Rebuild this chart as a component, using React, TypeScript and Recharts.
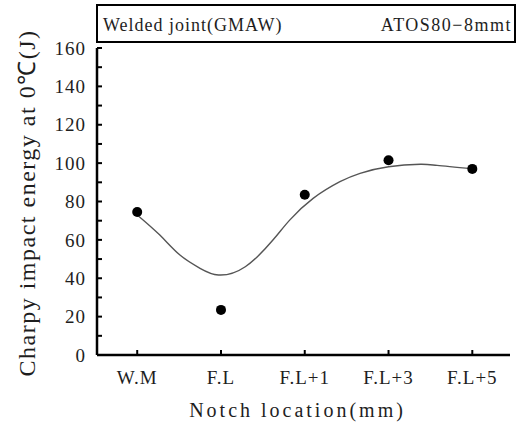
import React from 'react';
import { ComposedChart, Line, Scatter, XAxis, YAxis } from 'recharts';

const categories = ['W.M', 'F.L', 'F.L+1', 'F.L+3', 'F.L+5'];
const categoryIndex = [0, 1, 2, 3, 4];
const measuredEnergy = [74.5, 23.5, 83.5, 101.5, 97];

// smooth fitted curve (x = position along the category axis)
const curveX = [0, 0.27, 0.51, 0.75, 0.97, 1.29, 1.62, 1.82, 2.1, 2.42, 2.66, 3.0, 3.38, 3.58, 4];
const curveY = [73, 62.5, 52.1, 45.2, 41.7, 46, 59.9, 70.3, 81.6, 90.3, 94.7, 98.1, 99.4, 98.8, 97.1];

const yTicks = [0, 10, 20, 30, 40, 50, 60, 70, 80, 90, 100, 110, 120, 130, 140, 150, 160];
const titleLeft = 'Welded joint(GMAW)';
const titleRight = 'ATOS80\u22128mmt';
const xTitle = 'Notch location(mm)';
const yTitle = 'Charpy impact energy at 0\u2103(J)';

const points = categoryIndex.map((x, i) => ({ x, y: measuredEnergy[i] }));
const curve = curveX.map((x, i) => ({ x, y: curveY[i] }));

const FONT = 'Liberation Serif';
const TEXT = '#1e1e1e';
const X_DOMAIN: [number, number] = [-0.48, 4.45];

const Dot = (props: any) => {
  const { cx, cy } = props;
  if (cx == null || cy == null) return null;
  return <circle cx={cx} cy={cy} r={5} fill="#000" />;
};

export default function App() {
  return (
    <div style={{ position: 'absolute', left: 0, top: 0, width: 518, height: 423, background: '#fff', fontFamily: FONT }}>
      <ComposedChart
        width={518}
        height={423}
        margin={{ top: 48, right: 8, bottom: 0, left: 0 }}
        style={{ fontFamily: FONT }}
      >
        <XAxis
          xAxisId="bottom"
          dataKey="x"
          type="number"
          domain={X_DOMAIN}
          ticks={categoryIndex}
          interval={0}
          tickFormatter={(v: number) => categories[v] ?? ''}
          height={68}
          tickSize={-5}
          tickMargin={21}
          axisLine={{ stroke: '#000', strokeWidth: 2.5 }}
          tickLine={{ stroke: '#000', strokeWidth: 2 }}
          tick={{ fill: TEXT, fontSize: 19, fontFamily: FONT, letterSpacing: 1 }}
          allowDataOverflow
          label={{
            value: xTitle,
            position: 'insideBottom',
            offset: 6,
            dx: -6,
            fill: TEXT,
            fontSize: 20,
            fontFamily: FONT,
            style: { letterSpacing: 3, fontFamily: FONT },
          }}
        />
        <XAxis
          xAxisId="top"
          orientation="top"
          type="number"
          domain={X_DOMAIN}
          ticks={categoryIndex}
          interval={0}
          height={0}
          tickSize={-5}
          tick={false}
          axisLine={{ stroke: '#000', strokeWidth: 2.5 }}
          tickLine={{ stroke: '#000', strokeWidth: 2 }}
          allowDataOverflow
        />
        <YAxis
          yAxisId="left"
          type="number"
          domain={[0, 160]}
          ticks={yTicks}
          interval={0}
          width={97}
          tickSize={-5}
          tickMargin={16}
          tickFormatter={(v: number) => (v % 20 === 0 ? String(v) : '')}
          axisLine={{ stroke: '#000', strokeWidth: 2.5 }}
          tickLine={{ stroke: '#000', strokeWidth: 2 }}
          tick={{ fill: TEXT, fontSize: 19, fontFamily: FONT, letterSpacing: 1 }}
          allowDataOverflow
          label={{
            content: () => (
              <text
                x={35}
                y={203}
                transform="rotate(-90 35 203)"
                textAnchor="middle"
                fill={TEXT}
                fontSize={24}
                fontFamily={FONT}
                style={{ letterSpacing: 1.5, fontFamily: FONT }}
              >
                {yTitle}
              </text>
            ),
          }}
        />
        <YAxis
          yAxisId="right"
          orientation="right"
          type="number"
          domain={[0, 160]}
          ticks={yTicks}
          interval={0}
          width={0}
          tickSize={-5}
          tick={false}
          axisLine={{ stroke: '#000', strokeWidth: 2.5 }}
          tickLine={{ stroke: '#000', strokeWidth: 2 }}
          allowDataOverflow
        />
        <Line
          xAxisId="bottom"
          yAxisId="left"
          data={curve}
          dataKey="y"
          type="natural"
          dot={false}
          activeDot={false}
          stroke="#555"
          strokeWidth={1.4}
          isAnimationActive={false}
        />
        <Scatter
          xAxisId="bottom"
          yAxisId="left"
          data={points}
          dataKey="y"
          shape={<Dot />}
          isAnimationActive={false}
        />
      </ComposedChart>
      <svg
        width={518}
        height={423}
        style={{ position: 'absolute', left: 0, top: 0, pointerEvents: 'none', fontFamily: FONT }}
      >
        <rect x={97} y={5} width={418} height={37} fill="none" stroke="#000" strokeWidth={2} />
        <text x={103} y={31} fill={TEXT} fontSize={18} fontFamily={FONT} style={{ letterSpacing: 1 }}>
          {titleLeft}
        </text>
        <text x={512} y={31} textAnchor="end" fill={TEXT} fontSize={18} fontFamily={FONT} style={{ letterSpacing: 1.5 }}>
          {titleRight}
        </text>
      </svg>
    </div>
  );
}
